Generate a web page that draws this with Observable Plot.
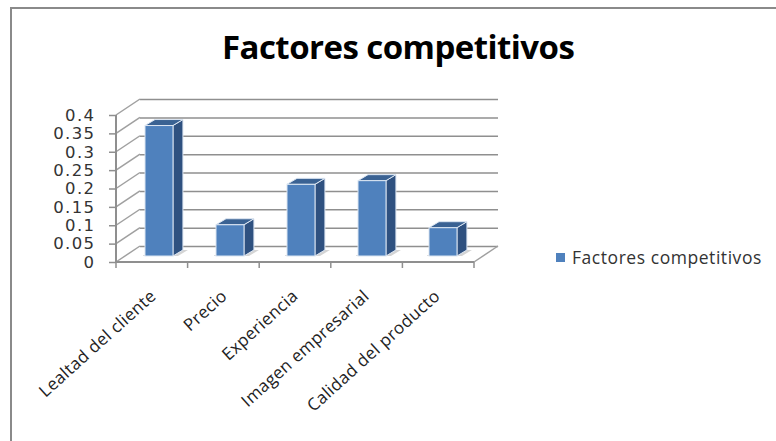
<!DOCTYPE html>
<html><head><meta charset="utf-8">
<style>
html,body{margin:0;padding:0;background:#fff;width:776px;height:441px;overflow:hidden}
#wrap{position:relative;width:776px;height:441px}
#frame{position:absolute;left:10px;top:7px;right:-4px;bottom:-4px;border:2px solid #8a8a8a}
#title{position:absolute;left:222px;top:24px;white-space:nowrap;font:bold 33px "Open Sans",sans-serif;color:#000;letter-spacing:-0.55px}
#legend{position:absolute;left:556px;top:245px;font:17.5px "Open Sans",sans-serif;color:#333;display:flex;align-items:center;gap:7px;white-space:nowrap;letter-spacing:.55px}
#legend i{display:block;width:9px;height:9px;background:#4f81bd}
svg{position:absolute;left:0;top:0}
[aria-label="y-axis tick label"]{letter-spacing:1.4px}
[aria-label="x-axis tick label"]{letter-spacing:.35px}
</style>
<script src="https://cdn.jsdelivr.net/npm/d3@7"></script>
<script src="https://cdn.jsdelivr.net/npm/@observablehq/plot@0.6"></script>
</head><body>
<div id="wrap">
<div id="frame"></div>
<div id="title">Factores competitivos</div>
<div id="legend"><i></i><span>Factores competitivos</span></div>
</div>
<script>
const categories = ["Lealtad del cliente","Precio","Experiencia","Imagen empresarial","Calidad del producto"];
const values = [0.355,0.085,0.195,0.205,0.077];
const yTicks = [0,0.05,0.1,0.15,0.2,0.25,0.3,0.35,0.4];
const table = categories.map((c,i)=>({c,v:values[i]}));

// 3D projection offsets, pixels
const wall = [24,-16], barPos = [6,-6], barDepth = [10,-6];

function poly(g,pts,fill,stroke){
  g.append("polygon").attr("points",pts.map(p=>p.join(",")).join(" "))
   .attr("fill",fill).attr("stroke",stroke||"none").attr("stroke-width",stroke?1:null).attr("stroke-linejoin","round");
}
function seg(g,a,b,w,col){
  g.append("line").attr("x1",a[0]).attr("y1",a[1]).attr("x2",b[0]).attr("y2",b[1])
   .attr("stroke",col||"#8f8f8f").attr("stroke-width",w||1.5);
}
// Side-wall lines, floor edge and tick marks, placed from the scales
function walls(index,{x,y},v,{width,marginLeft,marginRight}){
  const g = d3.create("svg:g");
  const x0 = marginLeft, x1 = width-marginRight, y0 = y(0);
  for (const t of yTicks) seg(g,[x0,y(t)],[x0+wall[0],y(t)+wall[1]],1.5,"#a0a0a0");
  seg(g,[x1,y0],[x1+wall[0],y0+wall[1]],1.5,"#a0a0a0");
  seg(g,[x0,y(0.4)],[x0,y0],2);
  seg(g,[x0,y0],[x1,y0],2);
  const step = (x1-x0)/categories.length;
  categories.forEach((c,i)=>seg(g,[x0+i*step,y0],[x0+i*step,y0+6],1.5));
  seg(g,[x1,y0],[x1,y0+6],1.5);
  return g.node();
}
// Bar base shadow, side and top faces
function barFaces(index,{x,y},v,{width,marginLeft,marginRight}){
  const g = d3.create("svg:g");
  const step = (width-marginLeft-marginRight)/categories.length, bw = step*0.39;
  table.forEach(d=>{
    const l = x(d.c)+barPos[0], r = l+bw, t = y(d.v)+barPos[1], b = y(0)+barPos[1];
    const dx = barDepth[0], dy = barDepth[1];
    poly(g,[[r,b],[r+dx,b+dy],[r+dx+5,b+dy],[r+5,b]],"#d4d4d4");
    poly(g,[[l-2,b-1],[l,b-1],[l,b],[l-2,b]],"#dddddd");
    poly(g,[[r,t],[r+dx,t+dy],[r+dx,b+dy],[r,b]],"#2f5180","#dce6f2");
    poly(g,[[l,t],[l+dx,t+dy],[r+dx,t+dy],[r,t]],"#3a6293","#dce6f2");
  });
  return g.node();
}

const chart = Plot.plot({
  width:776, height:441,
  marginLeft:116, marginRight:302, marginTop:115, marginBottom:179,
  style:{background:"transparent",overflow:"visible"},
  x:{type:"band",domain:categories,paddingInner:0.61,paddingOuter:0.305,label:null},
  y:{domain:[0,0.4],label:null},
  marks:[
    Plot.ruleY(yTicks,{dx:wall[0],dy:wall[1],stroke:"#8f8f8f",strokeWidth:1.5,strokeOpacity:1}),
    walls,
    barFaces,
    Plot.barY(table,{x:"c",y:"v",dx:barPos[0],dy:barPos[1],fill:"#4f81bd",stroke:"#dce6f2",strokeWidth:1}),
    Plot.axisY({ticks:yTicks,tickFormat:d=>String(d),tickSize:7,tickPadding:14,stroke:"#8f8f8f",strokeWidth:1.5,
      fontSize:16.5,fontFamily:"DejaVu Sans",fill:"#333",label:null,anchor:"left"}),
    Plot.axisX({tickSize:0,tickRotate:-42,textAnchor:"end",fontSize:17,fontFamily:"Open Sans",fill:"#222",label:null,
      tickPadding:31,dx:0})
  ]
});
document.getElementById("wrap").appendChild(chart);
</script>
</body></html>
